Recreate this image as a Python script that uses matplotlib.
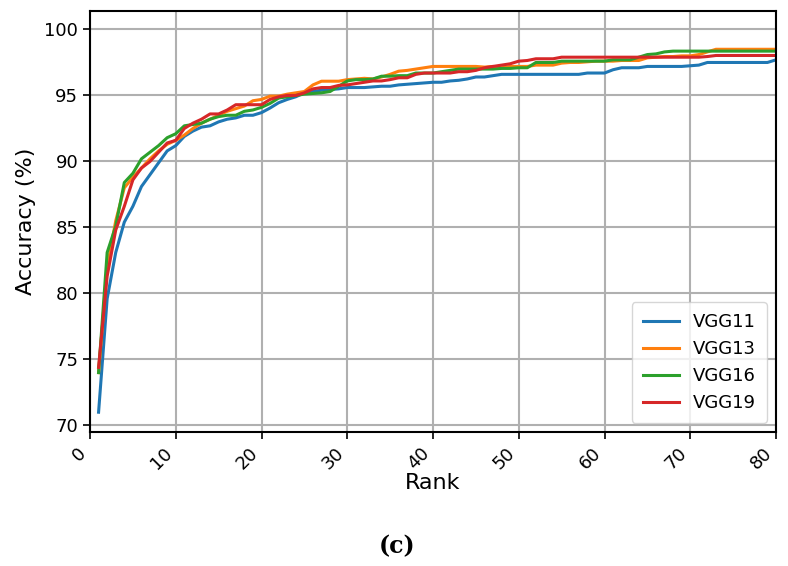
import matplotlib
matplotlib.use("Agg")
import matplotlib.pyplot as plt
import numpy as np

ranks = list(range(1, 81))

vgg11 = [71.0, 79.6, 83.1, 85.4, 86.6, 88.1, 89.0, 89.9, 90.8, 91.2,
         91.9, 92.3, 92.6, 92.7, 93.0, 93.2, 93.3, 93.5, 93.5, 93.7,
         94.05, 94.45, 94.7, 94.9, 95.2, 95.3, 95.4, 95.45, 95.5, 95.6,
         95.6, 95.6, 95.65, 95.7, 95.7, 95.8, 95.85, 95.9, 95.95, 96.0,
         96.0, 96.1, 96.15, 96.25, 96.4, 96.4, 96.5, 96.6, 96.6, 96.6,
         96.6, 96.6, 96.6, 96.6, 96.6, 96.6, 96.6, 96.7, 96.7, 96.7,
         96.95, 97.1, 97.1, 97.1, 97.2, 97.2, 97.2, 97.2, 97.2, 97.25,
         97.3, 97.5, 97.5, 97.5, 97.5, 97.5, 97.5, 97.5, 97.5, 97.7]

vgg13 = [74.0, 82.0, 85.5, 88.0, 88.8, 89.5, 90.2, 90.8, 91.3, 91.6,
         92.0, 92.5, 92.9, 93.2, 93.5, 93.8, 94.0, 94.2, 94.6, 94.7,
         94.95, 94.95, 95.1, 95.2, 95.3, 95.8, 96.08, 96.08, 96.08, 96.2,
         96.25, 96.3, 96.25, 96.4, 96.6, 96.84, 96.9, 97.0, 97.1, 97.2,
         97.2, 97.2, 97.2, 97.2, 97.2, 97.15, 97.2, 97.1, 97.2, 97.2,
         97.2, 97.3, 97.3, 97.3, 97.45, 97.5, 97.5, 97.55, 97.6, 97.6,
         97.6, 97.65, 97.65, 97.65, 97.85, 97.9, 97.95, 97.95, 98.0, 98.0,
         98.1, 98.3, 98.5, 98.5, 98.5, 98.5, 98.5, 98.5, 98.5, 98.5]

vgg16 = [74.0, 83.1, 85.1, 88.4, 89.1, 90.2, 90.7, 91.2, 91.8, 92.1,
         92.7, 92.8, 92.9, 93.2, 93.4, 93.5, 93.5, 93.8, 93.9, 94.1,
         94.4, 94.8, 94.9, 95.0, 95.1, 95.15, 95.2, 95.3, 95.7, 96.1,
         96.2, 96.2, 96.25, 96.46, 96.46, 96.5, 96.5, 96.7, 96.7, 96.7,
         96.8, 96.9, 97.0, 97.0, 97.0, 97.0, 97.0, 97.05, 97.05, 97.1,
         97.1, 97.5, 97.5, 97.5, 97.6, 97.6, 97.6, 97.6, 97.6, 97.6,
         97.7, 97.7, 97.7, 97.9, 98.1, 98.15, 98.3, 98.36, 98.36, 98.36,
         98.36, 98.36, 98.36, 98.36, 98.36, 98.36, 98.36, 98.36, 98.36, 98.36]

vgg19 = [74.4, 81.3, 84.8, 86.6, 88.6, 89.5, 90.0, 90.7, 91.4, 91.6,
         92.5, 92.9, 93.2, 93.6, 93.6, 93.9, 94.3, 94.3, 94.3, 94.3,
         94.7, 94.9, 95.0, 95.0, 95.2, 95.5, 95.6, 95.6, 95.76, 95.8,
         95.9, 96.0, 96.1, 96.1, 96.2, 96.34, 96.34, 96.6, 96.7, 96.7,
         96.7, 96.7, 96.8, 96.8, 96.9, 97.1, 97.2, 97.3, 97.4, 97.6,
         97.65, 97.78, 97.78, 97.78, 97.9, 97.9, 97.9, 97.9, 97.9, 97.9,
         97.9, 97.9, 97.9, 97.9, 97.9, 97.9, 97.9, 97.9, 97.9, 97.9,
         97.9, 97.95, 98.03, 98.03, 98.03, 98.03, 98.03, 98.03, 98.03, 98.03]

series = [("VGG11", vgg11, "#1f77b4"), ("VGG13", vgg13, "#ff7f0e"),
          ("VGG16", vgg16, "#2ca02c"), ("VGG19", vgg19, "#d62728")]

fig = plt.figure(figsize=(7.88, 5.66), dpi=100)
ax = fig.add_axes([90/788, (566-432)/566, 686/788, 421/566])
for name, vals, col in series:
    ax.plot(ranks, vals, color=col, lw=2.2, label=name)

ax.set_xlim(0, 80)
ax.set_ylim(69.5, 101.4)
ax.set_xticks(range(0, 81, 10))
ax.set_yticks(range(70, 101, 5))
ax.grid(True, color="#b0b0b0", lw=1.5)
ax.tick_params(labelsize=13, length=5, width=1.2)
for lab in ax.get_xticklabels():
    lab.set_rotation(45)
    lab.set_ha("right")
for s in ax.spines.values():
    s.set_linewidth(1.5)
ax.set_xlabel("Rank", fontsize=16, labelpad=0)
ax.set_ylabel("Accuracy (%)", fontsize=16, labelpad=6)
ax.legend(loc="lower right", fontsize=13, handlelength=2.0, borderpad=0.6)
fig.text(397/788, 1 - 546/566, "(c)", ha="center", va="center",
         fontsize=17, fontweight="bold", family="DejaVu Serif")
fig.savefig("out.png", dpi=100)
